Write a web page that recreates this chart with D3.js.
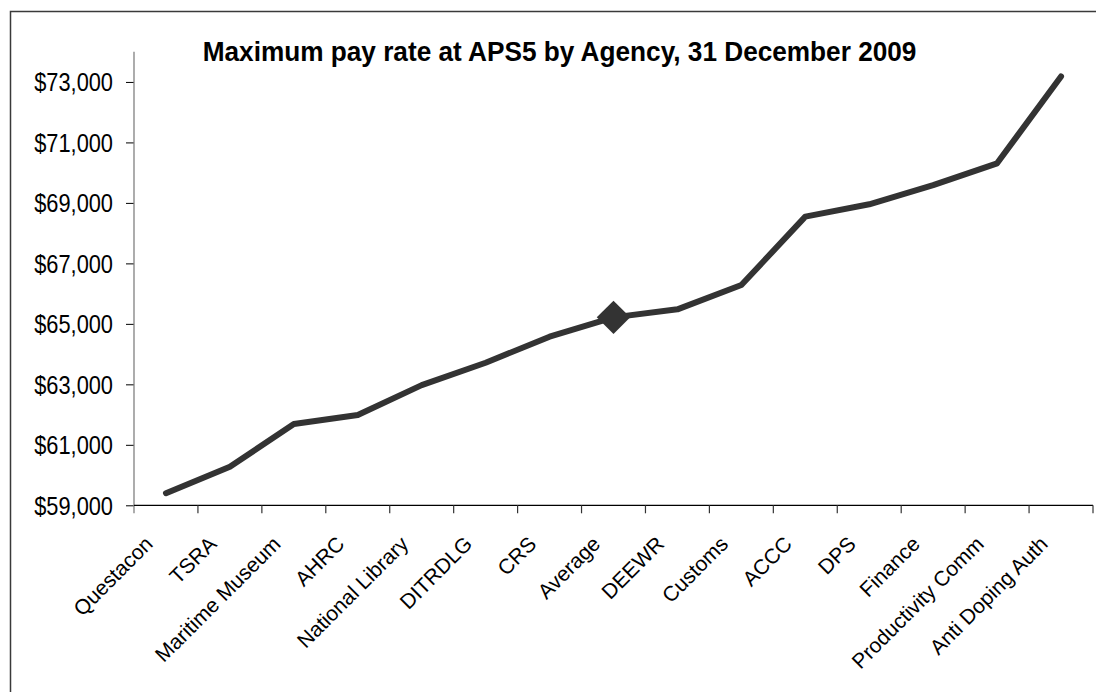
<!DOCTYPE html>
<html>
<head>
<meta charset="utf-8">
<script src="https://cdn.jsdelivr.net/npm/d3@7"></script>
<style>
  html, body { margin: 0; padding: 0; background: #fff; }
  svg { display: block; }
  text { font-family: "Liberation Sans", Arial, sans-serif; fill: #000; }
</style>
</head>
<body>
<svg id="chart" width="1096" height="692"></svg>
<script>
const titleText = "Maximum pay rate at APS5 by Agency, 31 December 2009";
const categories = ["Questacon", "TSRA", "Maritime Museum", "AHRC", "National Library", "DITRDLG", "CRS", "Average", "DEEWR", "Customs", "ACCC", "DPS", "Finance", "Productivity Comm", "Anti Doping Auth"];
const payValues = [59400, 60275, 61690, 61985, 62975, 63715, 64575, 65215, 65480, 66285, 68545, 68955, 69590, 70310, 73180];
const highlightCategory = "Average";
const yTickValues = [59000, 61000, 63000, 65000, 67000, 69000, 71000, 73000];
const yDomain = [59000, 74000];

(function () {
const svg = d3.select("#chart");
const W = 1096, H = 692;
const pLeft = 134, pRight = 1093, pTop = 51.7, pBottom = 505.3;
const lineColor = "#333333";

// outer frame (extends past the picture on right and bottom)
svg.append("rect")
  .attr("x", 10.5).attr("y", 11.5)
  .attr("width", W + 20).attr("height", H + 20)
  .attr("fill", "none").attr("stroke", "#3a3a3a").attr("stroke-width", 1.5);

const x = d3.scaleBand().domain(categories).range([pLeft, pRight]).paddingInner(0).paddingOuter(0);
const y = d3.scaleLinear().domain(yDomain).range([pBottom, pTop]);
const cx = d => x(d) + x.bandwidth() / 2;

// Title
svg.append("text")
  .attr("transform", "translate(202.7,60.7) scale(1,1.06)")
  .attr("font-size", "26.2px").attr("font-weight", "bold")
  .text(titleText);

// Y axis
const yAxis = d3.axisLeft(y).tickValues(yTickValues).tickSize(8).tickSizeOuter(0)
  .tickFormat(d => "$" + d3.format(",")(d));
const gy = svg.append("g").attr("transform", `translate(${pLeft},0)`).call(yAxis);
gy.select(".domain").remove();
gy.selectAll(".tick line").attr("stroke", "#000").attr("stroke-width", 1);
gy.selectAll(".tick text").remove();
gy.selectAll(".tick").append("text")
  .attr("transform", "translate(-21,0) scale(1,1.16)")
  .attr("text-anchor", "end").attr("dy", "0.35em")
  .attr("font-size", "21.8px")
  .attr("fill", "#000")
  .text(d => "$" + d3.format(",")(d));
svg.append("line")
  .attr("x1", pLeft).attr("x2", pLeft).attr("y1", pTop).attr("y2", pBottom + 8)
  .attr("stroke", "#808080").attr("stroke-width", 1.3);

// X axis
svg.append("line")
  .attr("x1", pLeft).attr("x2", pRight).attr("y1", pBottom).attr("y2", pBottom)
  .attr("stroke", "#000").attr("stroke-width", 1.3);
const boundaries = categories.map(c => x(c)).concat([x(categories[categories.length - 1]) + x.bandwidth()]);
svg.append("g").selectAll("line").data(boundaries.slice(1)).join("line")
  .attr("x1", d => d).attr("x2", d => d).attr("y1", pBottom).attr("y2", pBottom + 8)
  .attr("stroke", "#333").attr("stroke-width", 1.2);

const gx = svg.append("g");
gx.selectAll("text").data(categories).join("text")
  .attr("transform", d => `translate(${cx(d) - 12},${pBottom + 40}) rotate(-45)`)
  .attr("text-anchor", "end")
  .attr("font-size", "21px")
  .text(d => d);

// Line
const data = categories.map((c, i) => ({ c, v: payValues[i] }));
const line = d3.line().x(d => cx(d.c)).y(d => y(d.v));
svg.append("path").datum(data)
  .attr("d", line)
  .attr("fill", "none").attr("stroke", lineColor)
  .attr("stroke-width", 6).attr("stroke-linecap", "round").attr("stroke-linejoin", "round");

// Highlight marker (diamond)
const hl = data.filter(d => d.c === highlightCategory);
svg.append("g").selectAll("path").data(hl).join("path")
  .attr("transform", d => `translate(${cx(d.c)},${y(d.v)}) rotate(45)`)
  .attr("d", d3.symbol().type(d3.symbolSquare).size(560))
  .attr("fill", lineColor);
})();
</script>
</body>
</html>
